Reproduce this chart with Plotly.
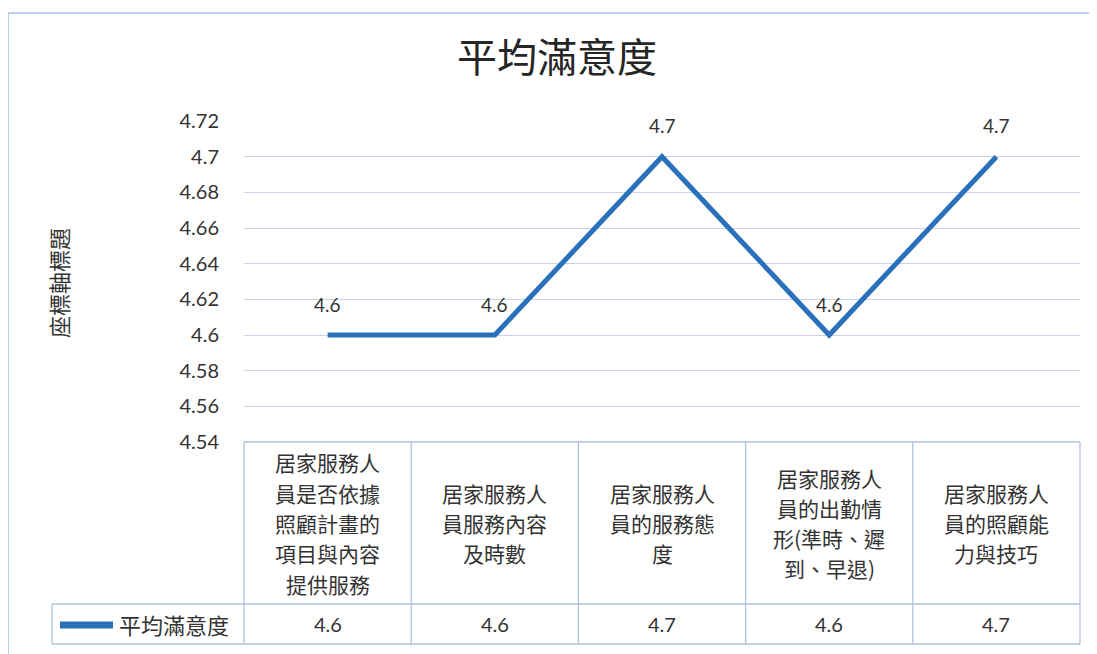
import plotly.graph_objects as go

# ---- data ----
title_text = "平均滿意度"
series_name = "平均滿意度"
y_axis_title = "座標軸標題"
categories = [
    "居家服務人員是否依據照顧計畫的項目與內容提供服務",
    "居家服務人員服務內容及時數",
    "居家服務人員的服務態度",
    "居家服務人員的出勤情形(準時、遲到、早退)",
    "居家服務人員的照顧能力與技巧",
]
values = [4.6, 4.6, 4.7, 4.6, 4.7]
tick_vals = [4.54, 4.56, 4.58, 4.60, 4.62, 4.64, 4.66, 4.68, 4.70, 4.72]
tick_text = ["4.54", "4.56", "4.58", "4.6", "4.62", "4.64", "4.66", "4.68", "4.7", "4.72"]
value_text = ["4.6", "4.6", "4.7", "4.6", "4.7"]

# ---- layout geometry (page pixels; page body has an 8px margin) ----
OFF = 8
PAGE_W, PAGE_H = 1097, 654
W, H = PAGE_W - OFF, PAGE_H - OFF
PX0, PX1 = 244, 1080      # plot area left/right (page px)
PY0, PY1 = 121, 442       # plot area top/bottom (page px)
PW, PH = PX1 - PX0, PY1 - PY0

def fx(px):
    return (px - PX0) / PW

def fy(py):
    return (PY1 - py) / PH

def wrap_lines(s, maxw=5.5):
    lines, cur, w = [], "", 0.0
    for ch in s:
        cw = 0.5 if ord(ch) < 128 else 1.0
        if w + cw > maxw:
            lines.append(cur)
            cur, w = "", 0.0
        cur += ch
        w += cw
    if cur:
        lines.append(cur)
    return lines

LINE_BLUE = "#2B70BA"
GRID = "#C6D3E8"
TABLE = "#AEC2DE"
TXT = "#333333"
NUMFONT = "Lato, Noto Sans CJK TC, sans-serif"
CJKFONT = "Noto Sans CJK TC, sans-serif"

x_idx = list(range(len(categories)))

fig = go.Figure()
fig.add_trace(go.Scatter(
    x=x_idx, y=values, mode="lines",
    line=dict(color=LINE_BLUE, width=5),
    name=series_name, showlegend=False, hoverinfo="skip",
))

annotations = []
# data labels
for i, v in enumerate(values):
    annotations.append(dict(
        x=i, y=v, xref="x", yref="y", text=value_text[i], showarrow=False,
        yshift=31, font=dict(family=NUMFONT, size=19, color=TXT),
    ))
# category labels in table (one annotation per wrapped line)
row1_center = (442 + 604) / 2
row2_center = (604 + 644) / 2
LINE_H = 30.3
for i, c in enumerate(categories):
    lines = wrap_lines(c)
    n = len(lines)
    for k, ln in enumerate(lines):
        yc = row1_center + (k - (n - 1) / 2) * LINE_H
        annotations.append(dict(
            x=i, y=fy(yc), xref="x", yref="paper", text=ln,
            showarrow=False, yanchor="middle", align="center",
            font=dict(family=CJKFONT, size=21, color=TXT),
        ))
    annotations.append(dict(
        x=i, y=fy(row2_center), xref="x", yref="paper", text=value_text[i],
        showarrow=False, yanchor="middle",
        font=dict(family=NUMFONT, size=20, color=TXT),
    ))
# legend text
annotations.append(dict(
    x=fx(117), y=fy(row2_center), xref="paper", yref="paper", text=series_name,
    showarrow=False, xanchor="left", yanchor="middle",
    font=dict(family=CJKFONT, size=22, color=TXT),
))
# y axis title
annotations.append(dict(
    x=fx(58), y=fy(283), xref="paper", yref="paper", text=y_axis_title,
    showarrow=False, textangle=-90, xanchor="center", yanchor="middle",
    font=dict(family=CJKFONT, size=22, color=TXT),
))

shapes = []
def hline(x0, x1, y, color=TABLE, width=1.3):
    shapes.append(dict(type="line", xref="paper", yref="paper",
                       x0=fx(x0), x1=fx(x1), y0=fy(y), y1=fy(y),
                       line=dict(color=color, width=width)))

def vline(x, y0, y1, color=TABLE, width=1.3):
    shapes.append(dict(type="line", xref="paper", yref="paper",
                       x0=fx(x), x1=fx(x), y0=fy(y0), y1=fy(y1),
                       line=dict(color=color, width=width)))

# table grid
col_edges = [PX0 + PW * k / len(categories) for k in range(len(categories) + 1)]
for xe in col_edges:
    vline(xe, 442, 644)
vline(52, 604, 644)
hline(PX0, PX1, 442)
hline(52, PX1, 604)
hline(52, PX1, 644)
# legend line
shapes.append(dict(type="line", xref="paper", yref="paper",
                   x0=fx(60), x1=fx(113), y0=fy(625), y1=fy(625),
                   line=dict(color=LINE_BLUE, width=7)))
# outer chart border (top & left visible)
hline(8, PAGE_W + 5, 13, color="#A9C1E3", width=1.5)
vline(8, 13, PAGE_H + 5, color="#A9C1E3", width=1.5)

fig.update_layout(
    width=W, height=H,
    margin=dict(l=PX0 - OFF, r=PAGE_W - PX1, t=PY0 - OFF, b=PAGE_H - PY1, pad=0),
    paper_bgcolor="white", plot_bgcolor="white",
    title=dict(text=title_text, x=(557 - OFF) / W, xanchor="center", xref="container",
               y=1 - (58 - OFF) / H, yanchor="middle", yref="container",
               font=dict(family=CJKFONT, size=40, color="#262626")),
    xaxis=dict(range=[-0.5, len(categories) - 0.5], showgrid=False, zeroline=False,
               showticklabels=False, showline=False, fixedrange=True),
    yaxis=dict(range=[4.54, 4.72], tickvals=tick_vals, ticktext=tick_text,
               showgrid=True, gridcolor=GRID, gridwidth=1.3, zeroline=False,
               showline=False, ticklabelstandoff=24,
               tickfont=dict(family=NUMFONT, size=20, color=TXT)),
    annotations=annotations, shapes=shapes, showlegend=False,
)

fig.write_html("out.html")
